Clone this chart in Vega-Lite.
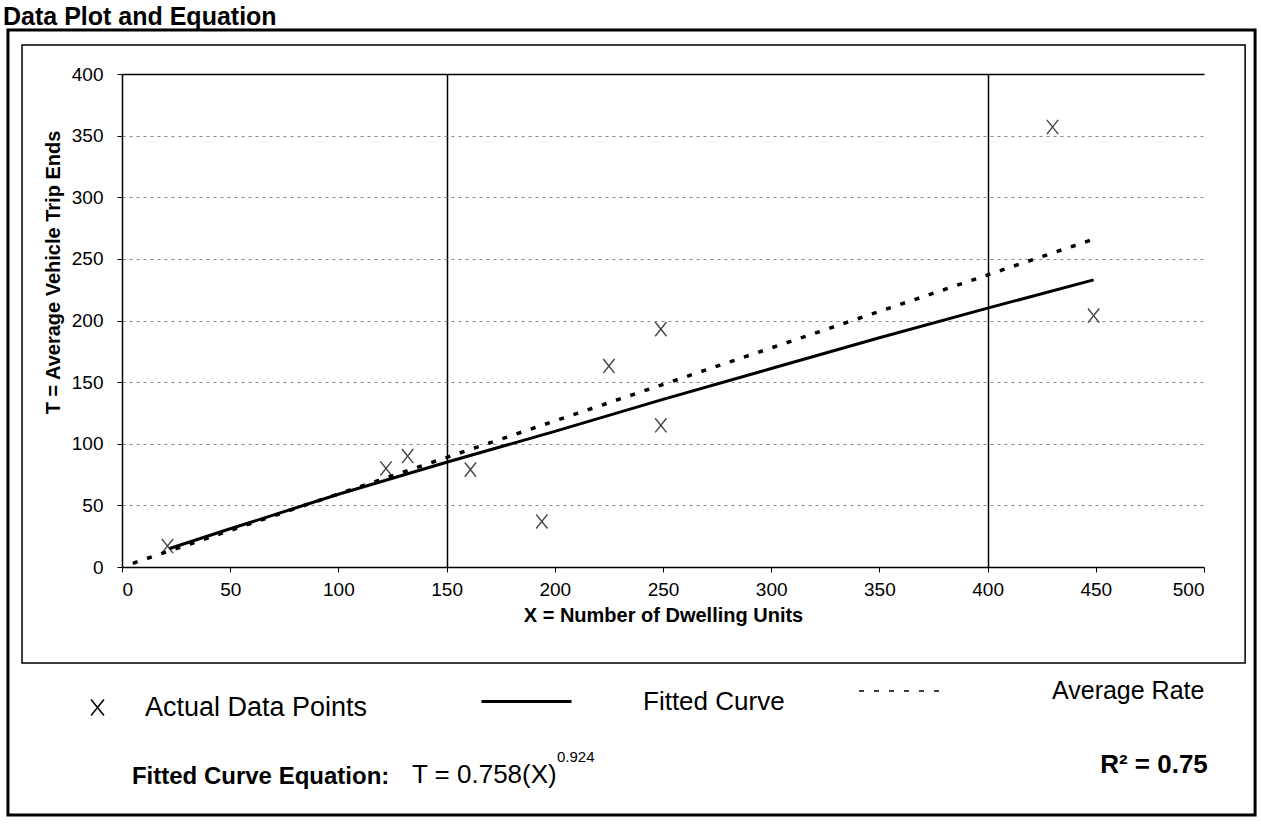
{
  "$schema": "https://vega.github.io/schema/vega-lite/v6.json",
  "width": 1082,
  "height": 493,
  "autosize": {"type": "none"},
  "padding": {"left": 122, "top": 74, "right": 57, "bottom": 266},
  "background": "white",
  "config": {"view": {"stroke": null}, "font": "Liberation Sans"},
  "title": {"text": "Data Plot and Equation", "anchor": "start", "frame": "group", "dx": -119, "dy": 3, "offset": 1, "fontSize": 25, "font": "Liberation Sans", "fontWeight": "bold", "color": "black"},
  "layer": [
    {
      "data": {"values": [{"frame": "outer"}]},
      "mark": {"type": "rect", "fill": null, "stroke": "black", "strokeWidth": 3, "clip": false},
      "encoding": {
        "x": {"datum": -52.7, "type": "quantitative"},
        "x2": {"datum": 523.6},
        "y": {"datum": 435.7, "type": "quantitative"},
        "y2": {"datum": -201.2}
      }
    },
    {
      "data": {"values": [{"frame": "inner"}]},
      "mark": {"type": "rect", "fill": null, "stroke": "black", "strokeWidth": 1.5, "clip": false},
      "encoding": {
        "x": {"datum": -46.2, "type": "quantitative"},
        "x2": {"datum": 519},
        "y": {"datum": 423.5, "type": "quantitative"},
        "y2": {"datum": -77.9}
      }
    },
    {
      "data": {"values": [
        {"x": 21, "t": 17}, {"x": 122, "t": 80}, {"x": 132, "t": 90}, {"x": 161, "t": 79},
        {"x": 194, "t": 37}, {"x": 225, "t": 163}, {"x": 249, "t": 193}, {"x": 249, "t": 115},
        {"x": 430, "t": 357}, {"x": 449, "t": 204}
      ]},
      "mark": {"type": "point", "filled": false, "color": "#444", "strokeWidth": 1.4, "size": 200, "opacity": 1},
      "encoding": {
        "x": {"field": "x", "type": "quantitative", "scale": {"domain": [0, 500], "nice": false},
          "axis": {"values": [0, 50, 100, 150, 200, 250, 300, 350, 400, 450, 500], "title": "X = Number of Dwelling Units",
            "labelFont": "Liberation Sans", "labelFontSize": 19, "labelColor": "black", "labelPadding": 8,
            "tickSize": 5, "tickColor": "black", "domainColor": "black", "domainWidth": 1.5,
            "titleFont": "Liberation Sans", "titleFontSize": 20, "titleFontWeight": "bold", "titleColor": "black", "titlePadding": 6,
            "grid": true, "gridColor": "black", "gridWidth": 1.5,
            "gridOpacity": {"condition": {"test": "datum.value == 150 || datum.value == 400", "value": 1}, "value": 0}}},
        "y": {"field": "t", "type": "quantitative", "scale": {"domain": [0, 400], "nice": false},
          "axis": {"values": [0, 50, 100, 150, 200, 250, 300, 350, 400], "title": "T = Average Vehicle Trip Ends",
            "labelFont": "Liberation Sans", "labelFontSize": 19, "labelColor": "black", "labelPadding": 14,
            "tickSize": 5, "tickColor": "black", "domainColor": "black", "domainWidth": 1.5,
            "titleFont": "Liberation Sans", "titleFontSize": 20, "titleFontWeight": "bold", "titleColor": "black", "titlePadding": 8, "titleY": 198,
            "grid": true, "gridWidth": {"condition": {"test": "datum.value == 400", "value": 1.5}, "value": 1},
            "gridColor": {"condition": {"test": "datum.value == 400", "value": "black"}, "value": "#888"},
            "gridDash": {"condition": {"test": "datum.value == 400", "value": []}, "value": [3, 4]},
            "gridOpacity": {"condition": {"test": "datum.value == 0", "value": 0}, "value": 1}}},
        "shape": {"datum": "Actual Data Points", "scale": {"range": ["M-0.8,-1L0.8,1M0.8,-1L-0.8,1"]},
          "legend": {"title": null, "orient": "none", "legendX": -38, "legendY": 620, "padding": 0,
            "labelFont": "Liberation Sans", "labelFontSize": 27, "labelColor": "black", "labelOffset": 34, "labelLimit": 500,
            "symbolSize": 260, "symbolStrokeColor": "black", "symbolStrokeWidth": 1.5, "symbolFillColor": "transparent"}}
      }
    },
    {
      "data": {"values": [
        {"x": 22, "t": 15}, {"x": 50, "t": 31}, {"x": 100, "t": 59}, {"x": 150, "t": 85}, {"x": 200, "t": 110},
        {"x": 250, "t": 136}, {"x": 300, "t": 161}, {"x": 350, "t": 186}, {"x": 400, "t": 210}, {"x": 449, "t": 233}
      ]},
      "mark": {"type": "line", "strokeWidth": 3},
      "encoding": {
        "x": {"field": "x", "type": "quantitative"},
        "y": {"field": "t", "type": "quantitative"},
        "color": {"datum": "Fitted Curve", "scale": {"range": ["black"]},
          "legend": {"title": null, "orient": "none", "legendX": 358, "legendY": 581, "padding": 0,
            "labelFont": "Liberation Sans", "labelFontSize": 26, "labelColor": "black", "labelOffset": 70, "labelLimit": 500,
            "symbolType": "stroke", "symbolSize": 8100, "symbolStrokeWidth": 3, "symbolStrokeColor": "black"}}
      }
    },
    {
      "data": {"values": [{"x": 5, "t": 3}, {"x": 449, "t": 266}]},
      "mark": {"type": "line", "strokeWidth": 3.5, "color": "black"},
      "encoding": {
        "x": {"field": "x", "type": "quantitative"},
        "y": {"field": "t", "type": "quantitative"},
        "strokeDash": {"datum": "Average Rate", "scale": {"range": [[5, 10]]},
          "legend": {"title": null, "orient": "none", "legendX": 736, "legendY": 575, "padding": 0,
            "labelFont": "Liberation Sans", "labelFontSize": 25, "labelColor": "black", "labelOffset": 110, "labelLimit": 500,
            "symbolType": "stroke", "symbolSize": 6724, "symbolStrokeWidth": 1.5, "symbolStrokeColor": "black", "symbolDash": [1.5, 1.5]}}
      }
    },
    {
      "data": {"values": [{"label": "Fitted Curve Equation:"}]},
      "mark": {"type": "text", "align": "left", "baseline": "middle", "fontSize": 24, "fontWeight": "bold", "font": "Liberation Sans", "color": "black", "clip": false},
      "encoding": {
        "x": {"datum": 4.6, "type": "quantitative"},
        "y": {"datum": -170.4, "type": "quantitative"},
        "text": {"field": "label"}
      }
    },
    {
      "data": {"values": [{"label": "T = 0.758(X)"}]},
      "mark": {"type": "text", "align": "left", "baseline": "middle", "fontSize": 26, "font": "Liberation Sans", "color": "black", "clip": false},
      "encoding": {
        "x": {"datum": 134, "type": "quantitative"},
        "y": {"datum": -168.8, "type": "quantitative"},
        "text": {"field": "label"}
      }
    },
    {
      "data": {"values": [{"label": "0.924"}]},
      "mark": {"type": "text", "align": "left", "baseline": "middle", "fontSize": 15, "font": "Liberation Sans", "color": "black", "clip": false},
      "encoding": {
        "x": {"datum": 201, "type": "quantitative"},
        "y": {"datum": -154, "type": "quantitative"},
        "text": {"field": "label"}
      }
    },
    {
      "data": {"values": [{"label": "R² = 0.75"}]},
      "mark": {"type": "text", "align": "left", "baseline": "middle", "fontSize": 26, "fontWeight": "bold", "font": "Liberation Sans", "color": "black", "clip": false},
      "encoding": {
        "x": {"datum": 452, "type": "quantitative"},
        "y": {"datum": -160.6, "type": "quantitative"},
        "text": {"field": "label"}
      }
    }
  ]
}
